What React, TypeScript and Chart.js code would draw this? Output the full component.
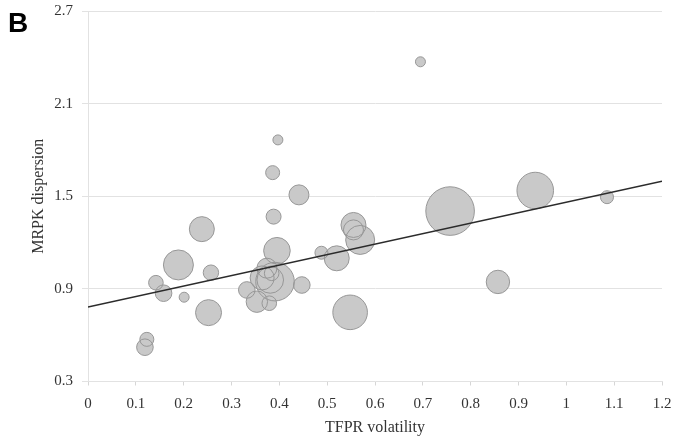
import React, { useEffect, useRef } from "react";
import { Chart, registerables } from "chart.js";

Chart.register(...registerables);

// Bubble data: TFPR volatility (x), MRPK dispersion (y), bubble size
const xValues = [
  0.397, 0.386, 0.441, 0.388, 0.238, 0.555, 0.555, 0.569, 0.395, 0.189,
  0.257, 0.488, 0.52, 0.757, 0.935, 1.085, 0.695, 0.142, 0.158, 0.201,
  0.252, 0.123, 0.119, 0.548, 0.447, 0.857, 0.374, 0.391, 0.381, 0.332,
  0.353, 0.379, 0.384, 0.364,
];
const yValues = [
  1.865, 1.653, 1.509, 1.368, 1.287, 1.314, 1.282, 1.217, 1.147, 1.055,
  1.005, 1.134, 1.098, 1.404, 1.537, 1.494, 2.371, 0.94, 0.872, 0.846,
  0.746, 0.573, 0.522, 0.748, 0.925, 0.945, 1.034, 0.947, 0.958, 0.893,
  0.817, 0.807, 1.001, 0.971,
];
const bubbleSize = [
  5, 7, 10, 7.5, 12.5, 12.5, 10, 14.5, 13.3, 15,
  7.7, 6.5, 12.5, 24.3, 18.3, 6.5, 5, 7.3, 8.3, 5,
  13, 7, 8.3, 17.3, 8.3, 11.7, 10, 19.3, 13.3, 8.3,
  10.7, 7.3, 7.3, 12,
];

// Fitted regression line endpoints
const fitX = [0, 1.2];
const fitY = [0.783, 1.597];

const xTicks = [0, 0.1, 0.2, 0.3, 0.4, 0.5, 0.6, 0.7, 0.8, 0.9, 1, 1.1, 1.2];
const yTicks = [0.3, 0.9, 1.5, 2.1, 2.7];

const panelLabel = "B";
const xTitle = "TFPR volatility";
const yTitle = "MRPK dispersion";

const SERIF = "'Liberation Serif', 'Times New Roman', serif";

export default function App() {
  const canvasRef = useRef<HTMLCanvasElement | null>(null);

  useEffect(() => {
    const canvas = canvasRef.current;
    if (!canvas) return;

    const bubbles = xValues.map((x, i) => ({ x, y: yValues[i], r: bubbleSize[i] }));
    const line = fitX.map((x, i) => ({ x, y: fitY[i] }));

    const panelPlugin = {
      id: "panelLabel",
      afterDraw(chart: any) {
        const ctx = chart.ctx;
        ctx.save();
        ctx.fillStyle = "#000";
        ctx.font = "bold 28px 'Liberation Sans', Arial, sans-serif";
        ctx.textAlign = "left";
        ctx.textBaseline = "alphabetic";
        ctx.fillText(panelLabel, 8, 32);
        ctx.restore();
      },
    };

    const chart = new Chart(canvas, {
      type: "bubble",
      data: {
        datasets: [
          {
            type: "line",
            data: line,
            borderColor: "#2b2b2b",
            borderWidth: 1.5,
            pointRadius: 0,
            fill: false,
            order: 0,
          } as any,
          {
            data: bubbles,
            backgroundColor: "rgba(0,0,0,0)",
            borderColor: "#979797",
            borderWidth: 1,
            order: 1,
          },
          {
            data: bubbles,
            backgroundColor: "#c9c9c9",
            borderWidth: 0,
            order: 2,
          },
        ],
      },
      options: {
        responsive: false,
        animation: false,
        events: [],
        layout: { autoPadding: false, padding: { left: 0, right: 11, top: 11, bottom: 0 } },
        plugins: {
          legend: { display: false },
          tooltip: { enabled: false },
        },
        scales: {
          x: {
            type: "linear",
            min: 0,
            max: 1.2,
            afterBuildTicks: (scale: any) => {
              scale.ticks = xTicks.map((v) => ({ value: v }));
            },
            afterFit: (scale: any) => {
              scale.height = 55.5;
              scale.paddingLeft = 0;
              scale.paddingRight = 0;
            },
            ticks: {
              callback: (v: any) => String(v),
              font: { family: SERIF, size: 15 },
              color: "#333",
              padding: 10,
              maxRotation: 0,
              autoSkip: false,
            },
            grid: {
              drawOnChartArea: false,
              drawTicks: true,
              tickLength: 4,
              color: "#d6d6d6",
            },
            border: { display: true, color: "#e2e2e2" },
            title: {
              display: true,
              text: xTitle,
              font: { family: SERIF, size: 16 },
              color: "#333",
              padding: { top: 2.4, bottom: 0 },
            },
          },
          y: {
            type: "linear",
            min: 0.3,
            max: 2.7,
            afterBuildTicks: (scale: any) => {
              scale.ticks = yTicks.map((v) => ({ value: v }));
            },
            afterFit: (scale: any) => {
              scale.width = 88;
              scale.paddingTop = 0;
              scale.paddingBottom = 0;
            },
            ticks: {
              callback: (v: any) => String(v),
              font: { family: SERIF, size: 15 },
              color: "#333",
              padding: 9,
              autoSkip: false,
            },
            grid: {
              color: "#e2e2e2",
              drawTicks: true,
              tickLength: 6,
            },
            border: { display: true, color: "#e2e2e2" },
            title: {
              display: true,
              text: yTitle,
              font: { family: SERIF, size: 16 },
              color: "#333",
              padding: { top: 29.4, bottom: 0 },
            },
          },
        },
      },
      plugins: [panelPlugin],
    });

    return () => chart.destroy();
  }, []);

  return (
    <div style={{ position: "absolute", left: 0, top: 0, width: 673, height: 437, background: "#fff" }}>
      <canvas ref={canvasRef} width={673} height={437} />
    </div>
  );
}
